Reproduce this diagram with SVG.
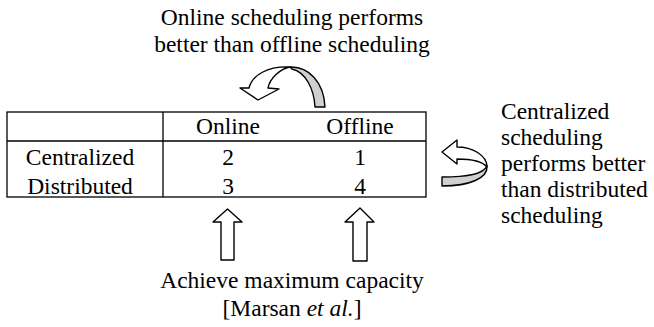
<svg xmlns="http://www.w3.org/2000/svg" width="654" height="327" viewBox="0 0 654 327">
<style>
text{font-family:'Liberation Serif','Times New Roman',Tinos,'DejaVu Serif',serif;font-size:23.5px;fill:#000}
.c{text-anchor:middle}
.ln{stroke:#000;stroke-width:1.3;fill:none}
.w{fill:#fff;stroke:#000;stroke-width:1.4;stroke-linejoin:round}
.g{fill:#d0d0d0;stroke:#000;stroke-width:1.4;stroke-linejoin:round}
</style>
<rect width="654" height="327" fill="#fff"/>
<g id="top-label">
<text class="c" x="292" y="25">Online scheduling performs</text>
<text class="c" x="292" y="52">better than offline scheduling</text>
</g>
<g id="table">
<rect class="ln" x="7" y="112" width="419" height="85"/>
<line class="ln" x1="7" y1="141" x2="426" y2="141"/>
<line class="ln" x1="163" y1="112" x2="163" y2="197"/>
<text class="c" x="228" y="134">Online</text>
<text class="c" x="360" y="134">Offline</text>
<text class="c" x="80" y="165">Centralized</text>
<text class="c" x="80" y="194">Distributed</text>
<text class="c" x="228" y="165">2</text>
<text class="c" x="360" y="165">1</text>
<text class="c" x="228" y="194">3</text>
<text class="c" x="360" y="194">4</text>
</g>
<g id="right-label">
<text x="501" y="119">Centralized</text>
<text x="501" y="145">scheduling</text>
<text x="501" y="171">performs better</text>
<text x="501" y="197">than distributed</text>
<text x="501" y="223">scheduling</text>
</g>
<g id="bottom-label">
<text class="c" x="292" y="288">Achieve maximum capacity</text>
<text class="c" x="292" y="316">[Marsan <tspan font-style="italic">et al.</tspan>]</text>
</g>
<g id="connectors">
<g id="arrow-top">
<path class="g" d="M290,67 C308,66 324,82 325,107 L315,107 C314,88 305,72 292,69 Z"/>
<path class="w" d="M249,88 C252,75 268,66 290,67 C280,69 270,78 268,88 L279,89 L258,100 L240,88 Z"/>
</g>
<g id="arrow-right">
<path class="g" d="M487,166 C488,178 470,186 442,186 L442,177 C465,177 483,175 487,166 Z"/>
<path class="w" d="M457,147 C472,147 487,155 487,167 C483,162 472,159 457,159 L457,164 L442,152 L457,140 Z"/>
</g>
<polygon id="arrow-up-1" class="w" points="227.5,209 242,222 234,222 234,260 221,260 221,222 213,222"/>
<polygon id="arrow-up-2" class="w" points="360,208 374,222 367,222 367,261 353,261 353,222 345,222"/>
</g>
</svg>
